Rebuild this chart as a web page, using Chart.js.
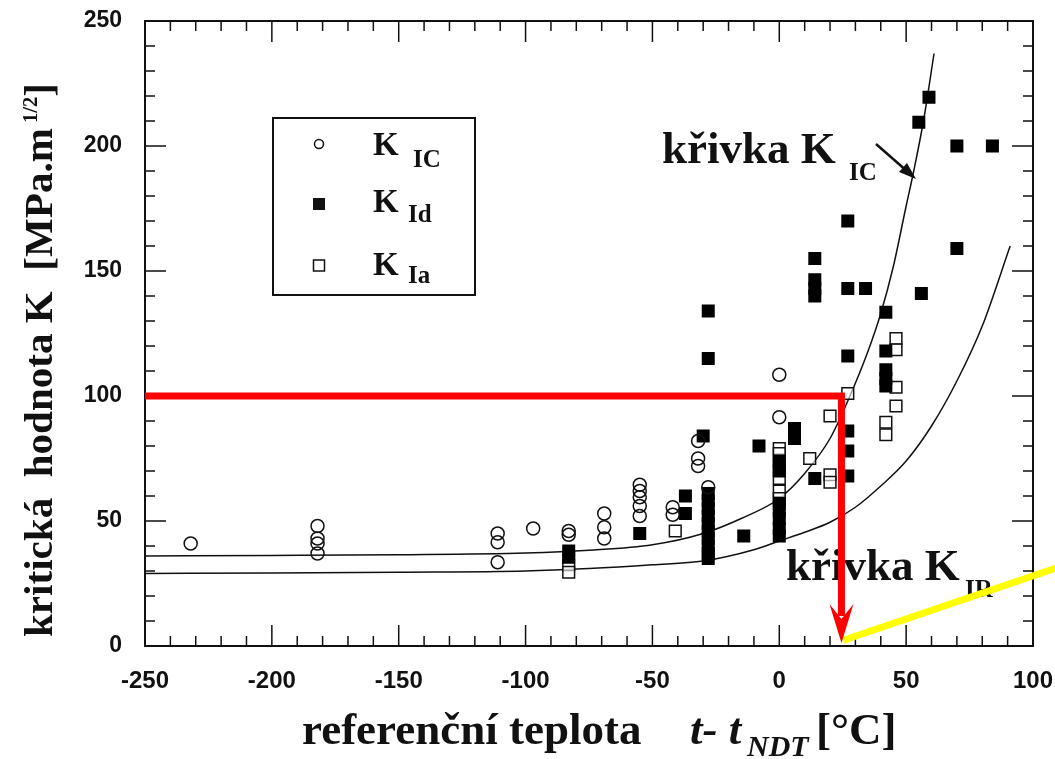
<!DOCTYPE html>
<html>
<head>
<meta charset="utf-8">
<script src="https://cdn.jsdelivr.net/npm/chart.js@4.4.1/dist/chart.umd.min.js"></script>
<style>
  html, body { margin: 0; padding: 0; background: #fff; }
  #wrap { width: 1055px; height: 759px; }
</style>
</head>
<body>
<div id="wrap"><canvas id="chart" width="1055" height="759"></canvas></div>
<script>
// values (x = t - tNDT in °C, y = K in MPa.m^1/2)
const kicX = [-232, -182, -182, -182, -182, -111, -111, -111, -97, -83, -83, -69, -69, -69,
  -55, -55, -55, -55, -55, -42, -42, -32, -32, -32, -28, 0, 0];
const kicY = [41, 48, 43, 41, 37, 45, 41.5, 33.5, 47, 46, 44.5, 53, 47.5, 43,
  64.5, 62, 59.5, 56, 52, 55.5, 52.5, 82, 75, 72, 63.5, 108.5, 91.5];

const kidX = [-83, -83, -55, -37, -37, -30, -28, -28, -28, -28, -28, -28, -28, -28, -28, -28, -28, -28,
  -14, -8, 0, 0, 0, 0, 0, 0, 0, 6, 6, 14, 14, 14, 14, 14, 27, 27, 27, 27, 27, 27, 34,
  42, 42, 42, 42, 42, 55, 59, 56, 70, 84, 70];
const kidY = [38, 35.5, 45, 60, 53, 84, 134, 115, 61, 58, 55, 52, 49, 46, 43, 40, 37, 35,
  44, 80, 74, 70, 57, 54, 51, 47, 44, 87, 83, 155, 146.5, 143, 140, 67, 170, 143, 116, 86, 78, 68, 143,
  133.5, 118, 110.5, 107, 104, 209.5, 219.5, 141, 200, 200, 159];

const kiaX = [-83, -83, -41, 0, 0, 0, 0, 0, 0, 12, 20, 20, 20, 27, 42, 42, 46, 46, 46, 46];
const kiaY = [32.5, 29.5, 46, 79, 77, 72, 67, 62, 59, 75, 92, 68.5, 65.5, 101, 89.5, 84.5, 123, 118.5, 103.5, 96];

// the two reference curves
const curveIcX = [-250, -200, -150, -100, -75, -50, -30, -15, 0, 10, 20, 27, 35, 40, 45, 50, 53, 57, 61];
const curveIcY = [36, 36.2, 36.5, 37.2, 38.3, 40.5, 45, 51, 59, 69, 83, 98, 118, 133, 152, 176, 190, 211, 237];
const curveIrX = [-250, -200, -150, -100, -75, -50, -30, -10, 0, 10, 20, 30, 40, 50, 60, 70, 80, 91];
const curveIrY = [29, 29.2, 29.5, 30, 31, 32.5, 34, 38.5, 42, 45.5, 49.5, 55.5, 64, 74, 88, 106, 128, 160];

// red reading path (K = 100 -> temperature) and the yellow marker line
const redX = [-250, 24.5, 24.5];
const redY = [100, 100, 12];
const yellowX = [25, 110];
const yellowY = [2.2, 31.5];

const xMin = -250, xMax = 100, yMin = 0, yMax = 250;

function pts(xs, ys) {
  return xs.map((x, i) => ({ x: x, y: ys[i] }));
}

const SERIF = '"Liberation Serif", "Times New Roman", serif';
const SANS = '"Liberation Sans", Arial, sans-serif';

//draws frame, inward ticks, legend and texts
const overlay = {
  id: 'overlay',
  beforeDatasetsDraw(chart) {
    const ctx = chart.ctx;
    const a = chart.chartArea;
    const xs = chart.scales.x;
    const ys = chart.scales.y;
    ctx.save();
    ctx.strokeStyle = '#111';
    ctx.fillStyle = '#111';

    // ticks pointing into the plot, on all four sides
    ctx.lineWidth = 1.5;
    ctx.beginPath();
    xs.ticks.forEach(t => {
      const px = xs.getPixelForValue(t.value);
      const len = t.value % 50 === 0 ? 21 : 10;
      ctx.moveTo(px, a.bottom); ctx.lineTo(px, a.bottom - len);
      ctx.moveTo(px, a.top); ctx.lineTo(px, a.top + len);
    });
    ys.ticks.forEach(t => {
      const py = ys.getPixelForValue(t.value);
      const len = t.value % 50 === 0 ? 21 : 10;
      ctx.moveTo(a.left, py); ctx.lineTo(a.left + len, py);
      ctx.moveTo(a.right, py); ctx.lineTo(a.right - len, py);
    });
    ctx.stroke();

    ctx.lineWidth = 2;
    ctx.strokeRect(a.left, a.top, a.right - a.left, a.bottom - a.top);

    // legend
    ctx.lineWidth = 2;
    ctx.strokeRect(273, 118, 202, 177);
    ctx.lineWidth = 1.5;
    ctx.beginPath();
    ctx.arc(319, 144, 4.5, 0, Math.PI * 2);
    ctx.stroke();
    ctx.fillRect(313, 198, 12, 12);
    ctx.strokeRect(313.5, 260, 11, 11);

    ctx.textAlign = 'left';
    ctx.textBaseline = 'alphabetic';
    ctx.font = 'bold 33px ' + SERIF;
    ctx.fillText('K', 373, 155);
    ctx.fillText('K', 373, 212);
    ctx.fillText('K', 373, 275);
    ctx.font = 'bold 25px ' + SERIF;
    ctx.fillText('IC', 413, 167);
    ctx.fillText('Id', 408, 222);
    ctx.fillText('Ia', 408, 283);

    // curve labels
    ctx.font = 'bold 45px ' + SERIF;
    ctx.fillText('křivka K', 662, 163);
    ctx.fillText('křivka K', 786, 580);
    ctx.font = 'bold 25px ' + SERIF;
    ctx.fillText('IC', 849, 180);
    ctx.fillText('IR', 965, 597);

    // arrow to the K_IC curve
    ctx.lineWidth = 2.5;
    ctx.beginPath();
    ctx.moveTo(876, 144);
    ctx.lineTo(908, 172);
    ctx.stroke();
    ctx.beginPath();
    ctx.moveTo(916, 179);
    ctx.lineTo(899, 172);
    ctx.lineTo(907, 163);
    ctx.closePath();
    ctx.fill();

    // x axis title
    ctx.font = 'bold 45px ' + SERIF;
    ctx.fillText('referenční teplota', 302, 744);
    ctx.font = 'italic bold 45px ' + SERIF;
    ctx.fillText('t- t', 690, 744);
    ctx.font = 'italic bold 30px ' + SERIF;
    ctx.fillText('NDT', 747, 756);
    ctx.font = 'bold 45px ' + SERIF;
    ctx.fillText('[°C]', 816, 744);

    // y axis title, rotated
    ctx.save();
    ctx.translate(52, 637);
    ctx.rotate(-Math.PI / 2);
    const mainTxt = 'kritická  hodnota K  [MPa.m';
    let fs = 40;
    ctx.font = 'bold ' + fs + 'px ' + SERIF;
    let w1 = ctx.measureText(mainTxt).width;
    let w3 = ctx.measureText(']').width;
    ctx.font = 'bold ' + (fs * 0.5) + 'px ' + SERIF;
    let w2 = ctx.measureText(' 1/2').width;
    fs = fs * 554 / (w1 + w2 + w3);
    ctx.font = 'bold ' + fs + 'px ' + SERIF;
    w1 = ctx.measureText(mainTxt).width;
    ctx.fillText(mainTxt, 0, 0);
    ctx.font = 'bold ' + (fs * 0.5) + 'px ' + SERIF;
    w2 = ctx.measureText(' 1/2').width;
    ctx.fillText(' 1/2', w1, -15);
    ctx.font = 'bold ' + fs + 'px ' + SERIF;
    ctx.fillText(']', w1 + w2, 0);
    ctx.restore();

    ctx.restore();
  },
  afterDatasetsDraw(chart) {
    // red arrow head at the end of the reading path
    const ctx = chart.ctx;
    const tx = chart.scales.x.getPixelForValue(redX[2]);
    const ty = chart.scales.y.getPixelForValue(1.2);
    ctx.save();
    ctx.fillStyle = '#ff0000';
    ctx.beginPath();
    ctx.moveTo(tx, ty);
    ctx.lineTo(tx - 12, ty - 39);
    ctx.lineTo(tx, ty - 24);
    ctx.lineTo(tx + 12, ty - 39);
    ctx.closePath();
    ctx.fill();
    ctx.restore();
  }
};

const tickLabel = v => (v % 50 === 0 ? v : '');

new Chart(document.getElementById('chart'), {
  type: 'scatter',
  plugins: [overlay],
  data: {
    datasets: [
      {
        label: 'red',
        data: pts(redX, redY),
        showLine: true,
        borderColor: '#ff0000',
        borderWidth: 7,
        pointRadius: 0,
        borderJoinStyle: 'miter',
        order: 0
      },
      {
        label: 'yellow',
        data: pts(yellowX, yellowY),
        showLine: true,
        borderColor: '#ffff00',
        borderWidth: 7,
        pointRadius: 0,
        clip: false,
        order: 0
      },
      {
        label: 'KIC',
        data: pts(kicX, kicY),
        pointStyle: 'circle',
        pointRadius: 6.5,
        borderWidth: 1.5,
        borderColor: '#111',
        backgroundColor: 'rgba(0,0,0,0)',
        order: 1
      },
      {
        label: 'KId',
        data: pts(kidX, kidY),
        pointStyle: 'rect',
        pointRadius: 9.2,
        borderWidth: 0,
        backgroundColor: '#000',
        order: 1
      },
      {
        label: 'KIa',
        data: pts(kiaX, kiaY),
        pointStyle: 'rect',
        pointRadius: 8.3,
        borderWidth: 1.5,
        borderColor: '#111',
        backgroundColor: 'rgba(255,255,255,0.6)',
        order: 1
      },
      {
        label: 'krivka KIC',
        data: pts(curveIcX, curveIcY),
        showLine: true,
        borderColor: '#111',
        borderWidth: 1.5,
        pointRadius: 0,
        cubicInterpolationMode: 'monotone',
        order: 2
      },
      {
        label: 'krivka KIR',
        data: pts(curveIrX, curveIrY),
        showLine: true,
        borderColor: '#111',
        borderWidth: 1.5,
        pointRadius: 0,
        cubicInterpolationMode: 'monotone',
        order: 2
      }
    ]
  },
  options: {
    responsive: false,
    animation: false,
    events: [],
    layout: { padding: { top: 21, right: 22, left: 0, bottom: 0 } },
    plugins: {
      legend: { display: false },
      tooltip: { enabled: false }
    },
    scales: {
      x: {
        type: 'linear',
        min: xMin,
        max: xMax,
        afterFit: s => {
          s.height = 113;
          s.paddingLeft = 0;
          s.paddingRight = 0;
        },
        border: { display: false },
        grid: { drawOnChartArea: false, drawTicks: false },
        ticks: {
          stepSize: 10,
          autoSkip: false,
          maxRotation: 0,
          padding: 21,
          color: '#111',
          font: { family: SANS, size: 24, weight: 'bold' },
          callback: tickLabel
        }
      },
      y: {
        type: 'linear',
        min: yMin,
        max: yMax,
        afterFit: s => {
          s.width = 145;
          s.paddingTop = 0;
          s.paddingBottom = 0;
        },
        border: { display: false },
        grid: { drawOnChartArea: false, drawTicks: false },
        ticks: {
          stepSize: 10,
          autoSkip: false,
          padding: 23,
          color: '#111',
          font: { family: SANS, size: 23, weight: 'bold' },
          callback: tickLabel
        }
      }
    }
  }
});
</script>
</body>
</html>
